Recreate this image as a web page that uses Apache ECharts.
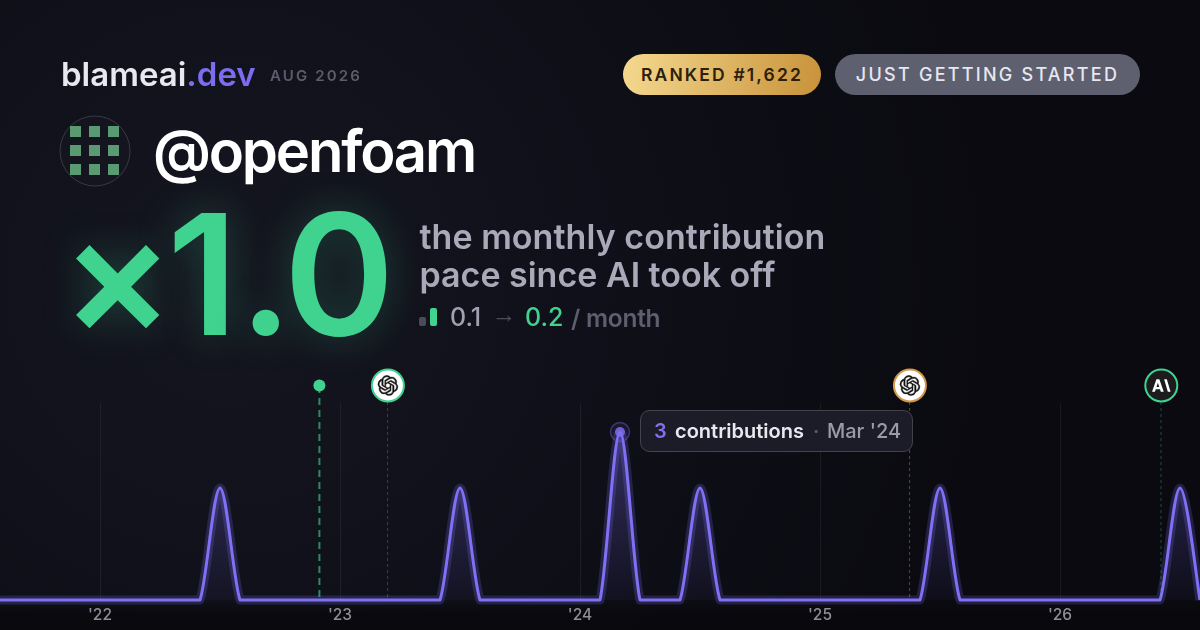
<!DOCTYPE html>
<html>
<head>
<meta charset="utf-8">
<script src="https://cdn.jsdelivr.net/npm/echarts@6/dist/echarts.min.js"></script>
<style>
html,body{margin:0;padding:0;background:#0a0a10;width:1200px;height:630px;overflow:hidden;font-family:Inter,sans-serif}
#chart{position:absolute;left:0;top:0;width:1200px;height:630px}
.t{position:absolute;white-space:nowrap;line-height:1;z-index:2}
.pill{position:absolute;top:54px;height:41px;border-radius:21px;display:flex;align-items:center;justify-content:center;font-weight:600;font-size:17.5px;letter-spacing:2.15px;z-index:2;box-sizing:border-box}
.sub{font-size:25px;font-weight:500;top:305px}
</style>
</head>
<body>
<div id="chart"></div>
<div class="t" style="left:61px;top:58px;font-size:33px;font-weight:600;color:#e8e8f0">blameai<span style="color:#7c6cf0">.dev</span></div>
<div class="t" style="left:270px;top:68px;font-size:15px;font-weight:600;letter-spacing:2.15px;color:#5c5c6c">AUG 2026</div>
<div class="pill" style="left:623px;width:198px;color:#2c2008;background:linear-gradient(100deg,#f5d98f,#c8923a)">RANKED #1,622</div>
<div class="pill" style="left:835px;width:305px;font-size:18px;font-weight:500;letter-spacing:2.25px;color:#e6e7f0;background:#5e606f">JUST GETTING STARTED</div>
<div class="t" style="left:153px;top:122px;font-size:58px;font-weight:600;letter-spacing:-2.2px;color:#fff">@openfoam</div>
<div class="t" style="left:61px;top:190px;font-size:168px;font-weight:600;color:#40d28f;text-shadow:0 0 40px rgba(64,210,143,.28)"><span style="letter-spacing:-7px">×</span><span style="letter-spacing:1px">1</span><span style="letter-spacing:-9px">.</span>0</div>
<div class="t" style="left:419.5px;top:220px;font-size:34px;font-weight:600;letter-spacing:.04px;color:#a9a9b9">the monthly contribution</div>
<div class="t" style="left:419.5px;top:258px;font-size:34px;font-weight:600;color:#a9a9b9">pace since AI took off</div>
<div style="position:absolute;left:419px;top:317px;width:7px;height:9px;border-radius:2px;background:#4b4b5a;z-index:2"></div>
<div style="position:absolute;left:430px;top:308px;width:7px;height:18px;border-radius:2px;background:#40d28f;z-index:2"></div>
<div class="t sub" style="left:450px;color:#a0a0b0">0.1</div>
<div class="t sub" style="left:491.5px;top:302px;font-family:'Liberation Sans';font-weight:400;color:#4c4c5a">→</div>
<div class="t sub" style="left:525px;color:#40d28f">0.2</div>
<div class="t sub" style="left:571px;font-size:24.5px;top:305.5px;font-weight:600;letter-spacing:-.25px;color:#5e5e6e">/ month</div>
<script>
var months = ['2021-08','2021-09','2021-10','2021-11','2021-12',
 '2022-01','2022-02','2022-03','2022-04','2022-05','2022-06','2022-07','2022-08','2022-09','2022-10','2022-11','2022-12',
 '2023-01','2023-02','2023-03','2023-04','2023-05','2023-06','2023-07','2023-08','2023-09','2023-10','2023-11','2023-12',
 '2024-01','2024-02','2024-03','2024-04','2024-05','2024-06','2024-07','2024-08','2024-09','2024-10','2024-11','2024-12',
 '2025-01','2025-02','2025-03','2025-04','2025-05','2025-06','2025-07','2025-08','2025-09','2025-10','2025-11','2025-12',
 '2026-01','2026-02','2026-03','2026-04','2026-05','2026-06','2026-07','2026-08'];
var contributions = [0,0,0,0,0,
 0,0,0,0,0,0,1,0,0,0,0,0,
 0,0,0,0,0,0,1,0,0,0,0,0,
 0,0,3,0,0,0,1,0,0,0,0,0,
 0,0,0,0,0,0,1,0,0,0,0,0,
 0,0,0,0,0,0,1,0];
var eventPositions = [15.97, 19.38, 45.48, 58.05];
var eventKinds = ['launch','openai','openai-late','anthropic'];
var peakMonth = '2024-03';
var peakValue = 3;
var tooltipParts = ['3','contributions','·',"Mar '24"];

var SCALE_POWER = 0.369;
function compress(v){ return v === 0 ? 0 : Math.pow(v, SCALE_POWER); }
var heights = contributions.map(compress);

var OPENAI = 'M22.2819 9.8211a5.9847 5.9847 0 0 0-.5157-4.9108 6.0462 6.0462 0 0 0-6.5098-2.9A6.0651 6.0651 0 0 0 4.9807 4.1818a5.9847 5.9847 0 0 0-3.9977 2.9 6.0462 6.0462 0 0 0 .7427 7.0966 5.98 5.98 0 0 0 .511 4.9107 6.051 6.051 0 0 0 6.5146 2.9001A5.9847 5.9847 0 0 0 13.2599 24a6.0557 6.0557 0 0 0 5.7718-4.2058 5.9894 5.9894 0 0 0 3.9977-2.9001 6.0557 6.0557 0 0 0-.7475-7.0729zm-9.022 12.6081a4.4755 4.4755 0 0 1-2.8764-1.0408l.1419-.0804 4.7783-2.7582a.7948.7948 0 0 0 .3927-.6813v-6.7369l2.02 1.1686a.071.071 0 0 1 .038.052v5.5826a4.504 4.504 0 0 1-4.4945 4.4944zm-9.6607-4.1254a4.4708 4.4708 0 0 1-.5346-3.0137l.142.0852 4.783 2.7582a.7712.7712 0 0 0 .7806 0l5.8428-3.3685v2.3324a.0804.0804 0 0 1-.0332.0615L9.74 19.9502a4.4992 4.4992 0 0 1-6.1408-1.6464zM2.3408 7.8956a4.485 4.485 0 0 1 2.3655-1.9728V11.6a.7664.7664 0 0 0 .3879.6765l5.8144 3.3543-2.0201 1.1685a.0757.0757 0 0 1-.071 0l-4.8303-2.7865A4.504 4.504 0 0 1 2.3408 7.872zm16.5963 3.8558L13.1038 8.364 15.1192 7.2a.0757.0757 0 0 1 .071 0l4.8303 2.7913a4.4944 4.4944 0 0 1-.6765 8.1042v-5.6772a.79.79 0 0 0-.407-.667zm2.0107-3.0231l-.142-.0852-4.7735-2.7818a.7759.7759 0 0 0-.7854 0L9.409 9.2297V6.8974a.0662.0662 0 0 1 .0284-.0615l4.8303-2.7866a4.4992 4.4992 0 0 1 6.6802 4.66zM8.3065 12.863l-2.02-1.1638a.0804.0804 0 0 1-.038-.0567V6.0742a4.4992 4.4992 0 0 1 7.3757-3.4537l-.142.0805L8.704 5.459a.7948.7948 0 0 0-.3927.6813zm1.0976-2.3654l2.602-1.4998 2.6069 1.4998v2.9994l-2.5974 1.5093-2.6067-1.4997z';
var ANTHROPIC = 'M0 13L4.5 0H7.5L12 13H9L8.2 10.4H3.8L3 13ZM4.6 8L7.4 8L6 3.6ZM12.4 0H15.2L19 13H16.2Z';

var EVENT_STYLE = {
  'launch':     {line:'rgba(64,210,143,.62)', width:2, dash:[7,5], top:386},
  'openai':     {line:'rgba(255,255,255,.2)', width:1, dash:[3,3], top:402, ring:'#40d28f', fill:'#fff', icon:OPENAI, iw:20, ih:20, ic:'#111', ist:.5},
  'openai-late':{line:'rgba(208,150,70,.45)', width:1, dash:[3,3], top:402, ring:'#d49a4a', fill:'#fff', icon:OPENAI, iw:20, ih:20, ic:'#111', ist:.5},
  'anthropic':  {line:'rgba(64,210,143,.35)', width:1, dash:[3,3], top:402, ring:'#40d28f', fill:'#1c1c1e', icon:ANTHROPIC, iw:18.5, ih:13, ic:'#fff', ist:0}
};

function renderEvent(params, api){
  var kind = eventKinds[params.dataIndex];
  var s = EVENT_STYLE[kind];
  var p = api.coord([api.value(0), 0]);
  var cx = p[0], cy = 385.5;
  var kids = [{type:'line',shape:{x1:cx,y1:s.top,x2:cx,y2:p[1]},style:{stroke:s.line,lineWidth:s.width,lineDash:s.dash}}];
  if (kind === 'launch') {
    kids.push({type:'circle',shape:{cx:cx,cy:cy,r:6},style:{fill:'#40d28f'}});
  } else {
    kids.push({type:'circle',shape:{cx:cx+.3,cy:cy,r:16},style:{fill:s.fill,stroke:s.ring,lineWidth:2}});
    kids.push({type:'path',shape:{pathData:s.icon,x:cx+.3-s.iw/2,y:cy-s.ih/2,width:s.iw,height:s.ih},style:{fill:s.ic,stroke:s.ist?s.ic:null,lineWidth:s.ist}});
  }
  return {type:'group',children:kids};
}

/* Curve through the monthly points: cardinal tangents, control points held at or above the zero line. */
function renderCurve(params, api){
  if (params.dataIndex !== 0) return null;
  var pts = heights.map(function(h,i){ return api.coord([i,h]); });
  var base = pts[0][1];
  var d = 'M'+pts[0][0]+' '+pts[0][1];
  for (var i=0;i<pts.length-1;i++){
    var a=pts[Math.max(i-1,0)], b=pts[i], c=pts[i+1], e=pts[Math.min(i+2,pts.length-1)];
    var c1x=b[0]+(c[0]-a[0])/6, c1y=Math.min(base,b[1]+(c[1]-a[1])/6);
    var c2x=c[0]-(e[0]-b[0])/6, c2y=Math.min(base,c[1]-(e[1]-b[1])/6);
    d+='C'+c1x+' '+c1y+' '+c2x+' '+c2y+' '+c[0]+' '+c[1];
  }
  var last=pts[pts.length-1];
  var closed=d+'L'+last[0]+' '+base+'L'+pts[0][0]+' '+base+'Z';
  var top=api.coord([0,compress(peakValue)])[1];
  return {type:'group',children:[
    {type:'path',shape:{pathData:closed},style:{stroke:null,fill:new echarts.graphic.LinearGradient(0,top,0,base,[
      {offset:0,color:'rgba(124,108,240,.34)'},{offset:1,color:'rgba(124,108,240,.04)'}],true)}},
    {type:'path',shape:{pathData:d},style:{fill:null,stroke:'rgba(124,108,240,.22)',lineWidth:9,lineJoin:'round'}},
    {type:'path',shape:{pathData:d},style:{fill:null,stroke:'#8070f4',lineWidth:3,lineJoin:'round'}}
  ]};
}

var chart = echarts.init(document.getElementById('chart'), null, {width:1200,height:630});
var isYearStart = function(i){ return months[i].slice(5) === '01'; };
var TOOLTIP_FONT = 'Inter';

var avatar = [{type:'circle',z:1,shape:{cx:95,cy:151,r:35},style:{fill:'rgba(255,255,255,.01)',stroke:'rgba(255,255,255,.16)',lineWidth:1}}];
[70,89,108].forEach(function(x){[126,145,164].forEach(function(y){
  avatar.push({type:'rect',z:1,shape:{x:x,y:y,width:11,height:11},style:{fill:'#5a9a72'}});
});});

chart.setOption({
  animation:false,
  backgroundColor:{type:'radial',x:230,y:280,r:760,global:true,colorStops:[
    {offset:0,color:'#151620'},{offset:.45,color:'#10101a'},{offset:1,color:'#0a0a10'}]},
  grid:{left:0,right:0,top:403,bottom:30,containLabel:false},
  xAxis:[
    {type:'category',data:months,boundaryGap:false,
     axisLine:{show:false},axisTick:{show:false},
     splitLine:{show:true,interval:function(i){return isYearStart(i);},lineStyle:{color:'rgba(255,255,255,.06)',width:1}},
     axisLabel:{interval:function(i){return isYearStart(i);},margin:7,fontFamily:'Inter',fontSize:15.5,fontWeight:500,color:'#8e8e98',
       formatter:function(v){return "'"+v.slice(2,4);}}},
    {type:'value',min:0,max:60,show:false}
  ],
  yAxis:{type:'value',min:0,max:197/112,show:false,splitLine:{show:false}},
  series:[
    {type:'custom',clip:false,silent:true,z:3,name:'contributions',
     data:heights.map(function(h,i){return [i,h];}),renderItem:renderCurve,encode:{x:0,y:1}},
    {type:'custom',xAxisIndex:1,yAxisIndex:0,clip:false,silent:true,z:4,
     data:eventPositions.map(function(p){return [p,0];}),renderItem:renderEvent,encode:{x:0,y:1}},
    {type:'scatter',data:[[peakMonth,compress(peakValue)]],symbolSize:19,clip:false,silent:true,z:5,
     itemStyle:{color:'rgba(124,108,240,.12)',borderColor:'rgba(124,108,240,.5)',borderWidth:1.5}},
    {type:'scatter',data:[[peakMonth,compress(peakValue)]],symbolSize:10,clip:false,silent:true,z:6,
     itemStyle:{color:'#8070f4'}}
  ],
  graphic:[
    {type:'rect',z:0,silent:true,shape:{x:0,y:600,width:1200,height:30},style:{fill:new echarts.graphic.LinearGradient(0,600,0,614,[
      {offset:0,color:'rgba(8,8,12,0)'},{offset:1,color:'rgba(8,8,12,.85)'}],true)}},
    {type:'group',children:avatar},
    {type:'group',children:[
    {type:'rect',z:20,shape:{x:640.5,y:410.5,width:272,height:41,r:9},style:{fill:'#1c1c28',stroke:'rgba(255,255,255,.2)',lineWidth:1}},
    {type:'text',z:21,style:{x:654,y:432,text:tooltipParts[0],font:'600 20px '+TOOLTIP_FONT,fill:'#7f6ff2',verticalAlign:'middle'}},
    {type:'text',z:21,style:{x:675,y:432,text:tooltipParts[1],font:'600 20px '+TOOLTIP_FONT,fill:'#e8e8f0',verticalAlign:'middle'}},
    {type:'text',z:21,style:{x:813,y:432,text:tooltipParts[2],font:'600 20px '+TOOLTIP_FONT,fill:'#5c5c6c',verticalAlign:'middle'}},
    {type:'text',z:21,style:{x:827,y:432,text:tooltipParts[3],font:'500 20px '+TOOLTIP_FONT,fill:'#9a9aaa',verticalAlign:'middle'}}
  ]}]
});
</script>
</body>
</html>
